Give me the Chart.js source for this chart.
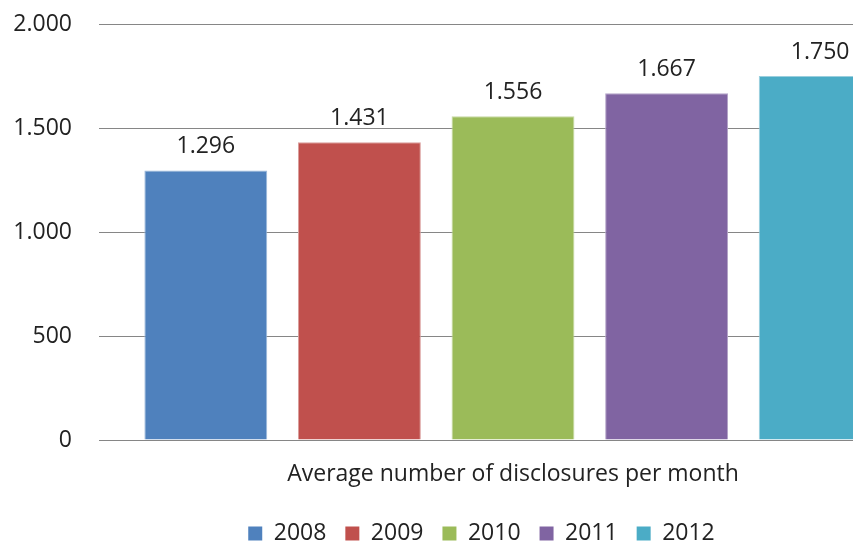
<!DOCTYPE html>
<html>
<head>
<meta charset="utf-8">
<script src="https://cdn.jsdelivr.net/npm/chart.js@4.4.1/dist/chart.umd.min.js"></script>
<style>
  html, body { margin: 0; padding: 0; background: #fff; overflow: hidden; }
  #wrap { width: 853px; height: 542px; overflow: hidden; }
</style>
</head>
<body>
<div id="wrap">
  <canvas id="chart" width="963" height="555"></canvas>
</div>
<script>
const categories = ["Average number of disclosures per month"];
const years = ["2008", "2009", "2010", "2011", "2012"];
const values = [1296, 1431, 1556, 1667, 1750];
const colors = ["#4F81BD", "#C0504D", "#9BBB59", "#8064A2", "#4BACC6"];
const edgeColors = ["#9DB8DA", "#DA9E9C", "#C6D9A3", "#B3A3C8", "#9ACFDE"];
const yTicks = [0, 500, 1000, 1500, 2000];

const fontFamily = "'Open Sans', 'DejaVu Sans', sans-serif";
const fontSize = 23;
const textColor = "#222";

// european style thousands separator: 1.296
function fmt(v) {
    return String(v).replace(/\B(?=(\d{3})+(?!\d))/g, ".");
}

const datasets = years.map((y, i) => ({
    label: y,
    data: [values[i]],
    backgroundColor: colors[i],
    borderColor: edgeColors[i],
    borderWidth: { top: 1, left: 1, right: 1, bottom: 0 },
    barPercentage: 0.80,
    categoryPercentage: 0.9275
}));

// draw value on top of each bar
const valueLabels = {
    id: "valueLabels",
    afterDatasetsDraw(chart) {
        const ctx = chart.ctx;
        ctx.save();
        ctx.font = fontSize + "px " + fontFamily;
        ctx.fillStyle = textColor;
        ctx.textAlign = "center";
        ctx.textBaseline = "alphabetic";
        chart.data.datasets.forEach((ds, i) => {
            const meta = chart.getDatasetMeta(i);
            meta.data.forEach((bar, j) => {
                ctx.fillText(fmt(ds.data[j]), bar.x, bar.y - 17);
            });
        });
        ctx.restore();
    }
};

new Chart(document.getElementById("chart"), {
    type: "bar",
    data: { labels: categories, datasets: datasets },
    options: {
        responsive: false,
        animation: false,
        layout: { padding: { top: 24, right: 0, bottom: 0, left: 0 } },
        plugins: {
            tooltip: { enabled: false },
            legend: {
                position: "bottom",
                labels: {
                    boxWidth: 14,
                    boxHeight: 14,
                    padding: 19,
                    color: textColor,
                    font: { family: fontFamily, size: fontSize },
                    generateLabels(chart) {
                        return chart.data.datasets.map((ds, i) => ({
                            text: ds.label,
                            fillStyle: colors[i],
                            strokeStyle: colors[i],
                            lineWidth: 0,
                            fontColor: textColor,
                            datasetIndex: i
                        }));
                    }
                }
            }
        },
        scales: {
            x: {
                grid: { display: false },
                border: { display: false },
                ticks: {
                    color: textColor,
                    padding: 13,
                    font: { family: fontFamily, size: fontSize }
                },
                afterFit(scale) {
                    scale.height = 63;
                    scale.paddingRight = 36;
                }
            },
            y: {
                min: 0,
                max: 2000,
                afterBuildTicks(scale) {
                    scale.ticks = yTicks.map(v => ({ value: v }));
                },
                grid: { color: "#868686", lineWidth: 1, drawTicks: false },
                border: { display: false },
                ticks: {
                    color: textColor,
                    padding: 27,
                    font: { family: fontFamily, size: fontSize },
                    callback: v => fmt(v)
                },
                afterFit(scale) {
                    scale.width = 99;
                    scale.paddingTop = 0;
                    scale.paddingBottom = 0;
                }
            }
        }
    },
    plugins: [valueLabels]
});
</script>
</body>
</html>
